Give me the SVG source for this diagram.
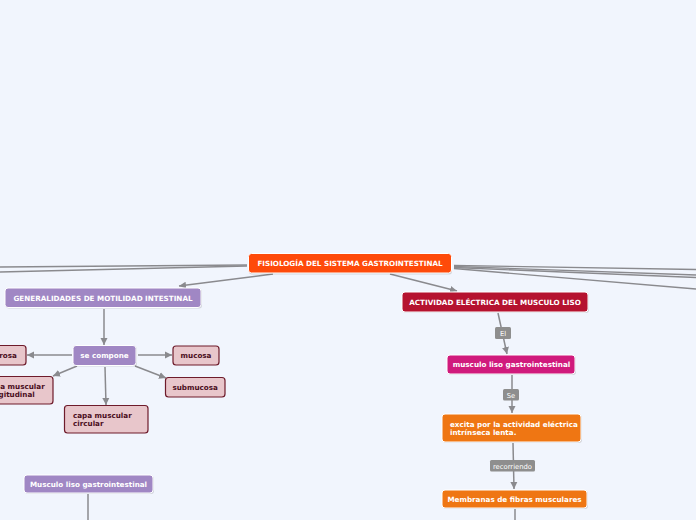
<svg xmlns="http://www.w3.org/2000/svg" width="696" height="520" viewBox="0 0 696 520">
<defs>
<marker id="arr" markerUnits="userSpaceOnUse" markerWidth="8" markerHeight="8" refX="7" refY="4" orient="auto">
<path d="M0,0.5 L7,4 L0,7.5 Z" fill="#8a8a8e"/>
</marker>
</defs>
<style>
.bg{fill:#F1F5FD}
.ln{stroke:#8a8a8e;stroke-width:1.5;fill:none}
.lnt{stroke:#8a8a8e;stroke-width:1.3;fill:none}
.n{stroke:#ffffff;stroke-width:1}
.sh{fill:#000;opacity:0.13}
.t{font-family:"DejaVu Sans","Verdana",sans-serif;font-weight:bold;font-size:7.2px;fill:#ffffff}
.tc{text-anchor:middle}
.tp{font-family:"DejaVu Sans","Verdana",sans-serif;font-weight:bold;font-size:7.2px;fill:#4a0d1c}
.pk{fill:#E8C6CB;stroke:#6E1B2B;stroke-width:1.2}
.lb{fill:#8E8E8E}
.lt{font-family:"DejaVu Sans","Verdana",sans-serif;font-size:6.8px;fill:#ffffff;text-anchor:middle}
</style>
<rect class="bg" x="0" y="0" width="696" height="520"/>

<g id="connectors">
<path class="lnt" d="M247,265 L0,267"/>
<path class="lnt" d="M247,266 L0,272"/>
<path class="lnt" d="M454,265.5 L696,269.5"/>
<path class="lnt" d="M454,266.5 L696,275"/>
<path class="lnt" d="M454,267.5 L696,277.5"/>
<path class="lnt" d="M454,268.5 L696,289"/>
<path class="ln" d="M273,274 L179,286" marker-end="url(#arr)"/>
<path class="ln" d="M104,309 L104,345" marker-end="url(#arr)"/>
<path class="ln" d="M72,355 L27,355" marker-end="url(#arr)"/>
<path class="ln" d="M138,355 L172,355" marker-end="url(#arr)"/>
<path class="ln" d="M135,366 L166,378" marker-end="url(#arr)"/>
<path class="ln" d="M105,367 L106,405" marker-end="url(#arr)"/>
<path class="ln" d="M77,366 L53,376" marker-end="url(#arr)"/>
<path class="ln" d="M390,274 L457,291" marker-end="url(#arr)"/>
<path class="ln" d="M498,313 L507,354" marker-end="url(#arr)"/>
<path class="ln" d="M512,375 L512,413" marker-end="url(#arr)"/>
<path class="ln" d="M513,443 L514,489" marker-end="url(#arr)"/>
<path class="ln" d="M515,509 L515,520"/>
<path class="ln" d="M88,494 L88,520"/>
<g id="lbl-el"><rect class="lb" x="495" y="327" width="16" height="12" rx="1.5"/><text class="lt" x="503" y="335.5">El</text></g>
<g id="lbl-se"><rect class="lb" x="503" y="389" width="16" height="11.5" rx="1.5"/><text class="lt" x="511" y="397.5">Se</text></g>
<g id="lbl-rec"><rect class="lb" x="490" y="460" width="45" height="11.5" rx="1.5"/><text class="lt" x="512.5" y="468.5">recorriendo</text></g>
</g>

<g id="central">
<rect class="sh" x="249" y="255" width="203" height="19.5" rx="3"/>
<rect class="n" x="248.5" y="253.5" width="203" height="19.5" rx="3" fill="#FE4A0A"/>
<text class="t tc" x="350" y="266">FISIOLOGÍA DEL SISTEMA GASTROINTESTINAL</text>
</g>

<g id="generalidades">
<rect class="sh" x="6" y="289" width="196" height="19.5" rx="3"/>
<rect class="n" x="5" y="288" width="196" height="19.5" rx="3" fill="#A087C4"/>
<text class="t tc" x="103" y="300.5">GENERALIDADES DE MOTILIDAD INTESTINAL</text>
</g>

<g id="se-compone">
<rect class="sh" x="74" y="346.5" width="63" height="20" rx="3"/>
<rect class="n" x="73" y="345.5" width="63" height="20" rx="3" fill="#A087C4"/>
<text class="t tc" x="104.5" y="358">se compone</text>
</g>

<g id="serosa">
<rect class="pk" x="-18" y="345.5" width="44" height="19.5" rx="3"/>
<text class="tp tc" x="3.5" y="358">serosa</text>
</g>

<g id="mucosa">
<rect class="pk" x="173" y="346" width="46" height="19" rx="3"/>
<text class="tp tc" x="196" y="358">mucosa</text>
</g>

<g id="submucosa">
<rect class="pk" x="165.5" y="377.5" width="59.5" height="19.5" rx="3"/>
<text class="tp tc" x="195.2" y="390">submucosa</text>
</g>

<g id="longitudinal">
<rect class="pk" x="-23" y="376.5" width="76" height="27.5" rx="3"/>
<text class="tp" x="-14" y="388.5">capa muscular</text>
<text class="tp" x="-14" y="396.5">longitudinal</text>
</g>

<g id="circular">
<rect class="pk" x="64.5" y="405.5" width="83.5" height="27.5" rx="3"/>
<text class="tp" x="73" y="417.5">capa muscular</text>
<text class="tp" x="73" y="426">circular</text>
</g>

<g id="musculo-izq">
<rect class="sh" x="25" y="476" width="129" height="18" rx="3"/>
<rect class="n" x="24" y="475" width="129" height="18" rx="3" fill="#A087C4"/>
<text class="t tc" x="88.5" y="486.8">Musculo liso gastrointestinal</text>
</g>

<g id="actividad">
<rect class="sh" x="403" y="293" width="186" height="20" rx="3"/>
<rect class="n" x="402" y="292" width="186" height="20" rx="3" fill="#B5122F"/>
<text class="t tc" x="495" y="304.5">ACTIVIDAD ELÉCTRICA DEL MUSCULO LISO</text>
</g>

<g id="musculo-der">
<rect class="sh" x="448" y="356" width="128" height="19" rx="3"/>
<rect class="n" x="447" y="355" width="128" height="19" rx="3" fill="#D01A7C"/>
<text class="t tc" x="511.5" y="367">musculo liso gastrointestinal</text>
</g>

<g id="excita">
<rect class="sh" x="443" y="415" width="139" height="28" rx="3"/>
<rect class="n" x="442" y="414" width="139" height="28" rx="3" fill="#EF7613"/>
<text class="t" x="450" y="426.5">excita por la actividad eléctrica</text>
<text class="t" x="450" y="434.5">intrínseca lenta.</text>
</g>

<g id="membranas">
<rect class="sh" x="443" y="491" width="145" height="18" rx="3"/>
<rect class="n" x="442" y="490" width="145" height="18" rx="3" fill="#EF7613"/>
<text class="t tc" x="514.5" y="501.8">Membranas de fibras musculares</text>
</g>
</svg>
